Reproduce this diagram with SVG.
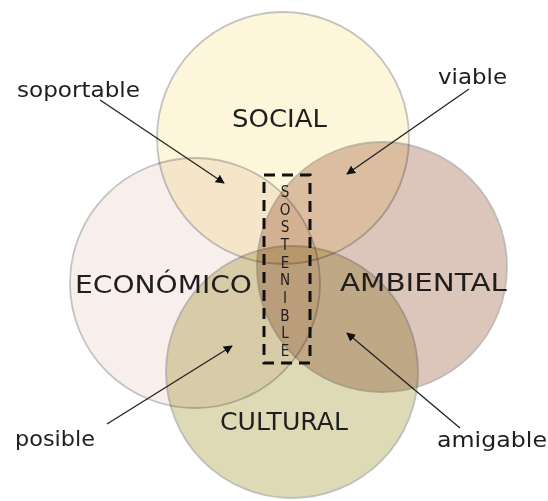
<svg xmlns="http://www.w3.org/2000/svg" width="548" height="501" viewBox="0 0 548 501">
<style>
.c{stroke:#b0b0b0;stroke-opacity:0.75;stroke-width:1.8;mix-blend-mode:multiply}
.big{font-family:"DejaVu Sans",sans-serif;font-size:25px;fill:#1e1e1e}
.lbl{font-family:"DejaVu Sans",sans-serif;font-size:21px;fill:#1e1e1e}
.v{font-family:"DejaVu Sans",sans-serif;font-size:16px;fill:#1e1e1e;text-anchor:middle}
.a{stroke:#222;stroke-width:1.3;fill:none;marker-end:url(#ah)}
</style>
<defs>
<marker id="ah" viewBox="0 0 10 10" refX="9" refY="5" markerWidth="9" markerHeight="9" markerUnits="userSpaceOnUse" orient="auto">
<path d="M0,0 L10,5 L0,10 z" fill="#111"/>
</marker>
</defs>
<rect width="548" height="501" fill="#fff"/>
<g id="social"><circle class="c" cx="283" cy="138" r="126" fill="#fdf6da"/></g>
<g id="economico"><circle class="c" cx="195" cy="283" r="125" fill="#f8efec"/></g>
<g id="cultural"><circle class="c" cx="292" cy="372" r="126" fill="#dedab6"/></g>
<g id="ambiental"><circle class="c" cx="382" cy="267" r="125" fill="#dcc5ba"/></g>
<g id="labels">
<text class="big" x="232" y="127" textLength="95" lengthAdjust="spacingAndGlyphs">SOCIAL</text>
<text class="big" x="75" y="293" textLength="177" lengthAdjust="spacingAndGlyphs">ECONÓMICO</text>
<text class="big" x="340" y="291" textLength="167" lengthAdjust="spacingAndGlyphs">AMBIENTAL</text>
<text class="big" x="220" y="430" textLength="128" lengthAdjust="spacingAndGlyphs">CULTURAL</text>
</g>
<g id="sostenible">
<rect x="264" y="175" width="46" height="188" fill="none" stroke="#111" stroke-width="3" stroke-dasharray="11,7"/>
<g transform="translate(285,0) scale(0.85,1)">
<text class="v" x="0" y="197">S</text>
<text class="v" x="0" y="214.7">O</text>
<text class="v" x="0" y="232.3">S</text>
<text class="v" x="0" y="250">T</text>
<text class="v" x="0" y="267.7">E</text>
<text class="v" x="0" y="285.3">N</text>
<text class="v" x="0" y="303">I</text>
<text class="v" x="0" y="320.7">B</text>
<text class="v" x="0" y="338.3">L</text>
<text class="v" x="0" y="356">E</text>
</g>
</g>
<g id="annotations">
<text class="lbl" x="17" y="97" textLength="123" lengthAdjust="spacingAndGlyphs">soportable</text>
<text class="lbl" x="438" y="84" textLength="69" lengthAdjust="spacingAndGlyphs">viable</text>
<text class="lbl" x="15" y="446" textLength="80" lengthAdjust="spacingAndGlyphs">posible</text>
<text class="lbl" x="437" y="447" textLength="110" lengthAdjust="spacingAndGlyphs">amigable</text>
</g>
<g id="connectors">
<line class="a" x1="100" y1="100" x2="224" y2="183"/>
<line class="a" x1="469" y1="89" x2="347" y2="174"/>
<line class="a" x1="107" y1="424" x2="232" y2="346"/>
<line class="a" x1="460" y1="428" x2="347" y2="333"/>
</g>
</svg>
